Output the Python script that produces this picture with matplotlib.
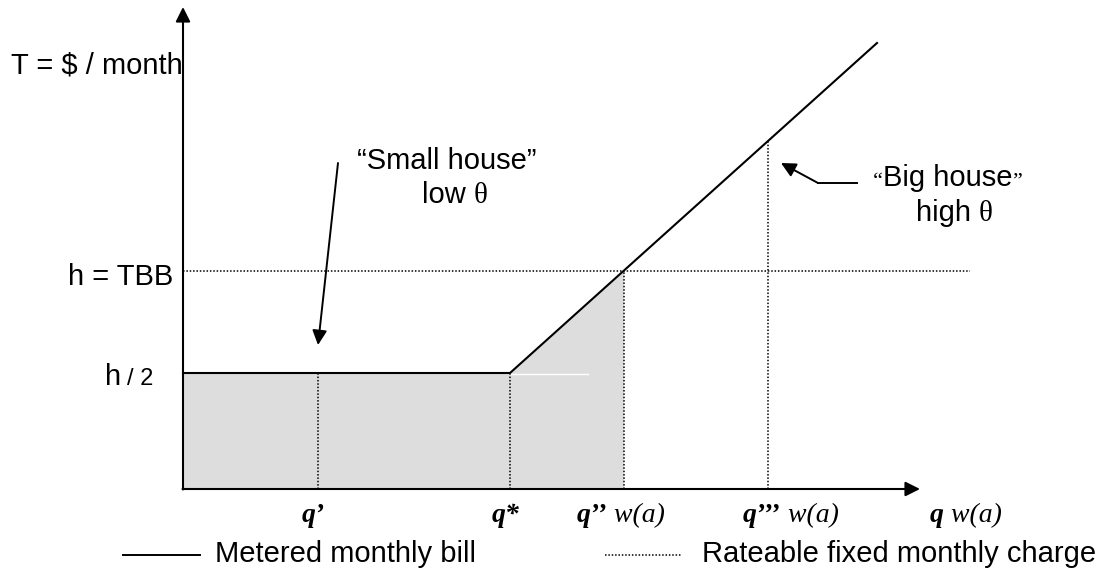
import matplotlib
matplotlib.use("Agg")
import matplotlib.pyplot as plt

# schematic values (x: quantity, y: $ / month)
h_half = 1.16
h = 2.18
q_prime = 1.35
q_star = 3.27
q_dd = 4.41
q_ddd = 5.85
q_end = 6.94
slope = (4.46 - h_half) / (q_end - q_star)

y_top = 4.82
x_tip = 7.37
h_line_end = 7.87

sans = "Liberation Sans"
serif = "Liberation Serif"

fig = plt.figure(figsize=(11.02, 5.69), dpi=100)
ax = fig.add_axes([0, 0, 1, 1])
ax.set_xlim(-1.83, 9.19)
ax.set_ylim(-0.80, 4.89)
ax.axis("off")

# shaded area under the bill up to q''
ax.fill([0, 0, q_star, q_dd, q_dd],
        [0, h_half, h_half, h_half + slope * (q_dd - q_star), 0],
        color="#dddddd", lw=0, zorder=1)
ax.plot([q_star, q_star + 0.78], [h_half - 0.01, h_half - 0.01], color="white", lw=1, zorder=2)

# metered monthly bill
ax.plot([0, q_star, q_end], [h_half, h_half, h_half + slope * (q_end - q_star)],
        color="black", lw=1.5, zorder=3)

# fixed charge line and verticals
ax.plot([0, h_line_end], [h, h], color="black", lw=1.1, ls=(0, (1, 1.2)), zorder=2)
for q in [q_prime, q_star, q_dd, q_ddd]:
    top = h_half if q <= q_star else h_half + slope * (q - q_star)
    ax.plot([q, q], [0, top], color="black", lw=1.1, ls=(0, (1, 1.2)), zorder=2)

# axes with arrows
arrow = dict(arrowstyle="-|>", lw=1.5, color="black", mutation_scale=22, shrinkA=0, shrinkB=0)
ax.annotate("", xy=(0, y_top), xytext=(0, -0.005), arrowprops=arrow, zorder=4)
ax.annotate("", xy=(x_tip, 0), xytext=(-0.005, 0), arrowprops=arrow, zorder=4)

# y labels
ax.text(0, 4.16, "T = $ / month", ha="right", va="baseline", fontsize=21, family=sans)
ax.text(-0.10, 2.04, "h = TBB", ha="right", va="baseline", fontsize=21, family=sans)
ax.text(-0.78, 1.04, "h", ha="left", va="baseline", fontsize=21, family=sans)
ax.text(-0.56, 1.04, "/ 2", ha="left", va="baseline", fontsize=17, family=sans)


def sans_theta(x, y, word):
    t = ax.text(x, y, word + " ", ha="left", va="baseline", fontsize=21, family=sans)
    ax.annotate("\u03b8", xy=(1, 0), xycoords=t, ha="left", va="bottom",
                fontsize=21, family=serif)


# annotations
ax.text(1.74, 3.20, "\u201cSmall house\u201d", ha="left", va="baseline", fontsize=21, family=sans)
sans_theta(2.39, 2.86, "low")
ax.annotate("", xy=(1.35, 1.44), xytext=(1.55, 3.26),
            arrowprops=dict(arrowstyle="-|>", lw=1.4, color="black", mutation_scale=22,
                            shrinkA=0, shrinkB=0))

tq = ax.text(6.90, 3.02, "\u201c", ha="left", va="baseline", fontsize=16, family=serif)
tb = ax.annotate("Big house", xy=(1, 0), xycoords=tq, ha="left", va="bottom",
                 fontsize=21, family=sans)
ax.annotate("\u201d", xy=(1, 0), xycoords=tb, ha="left", va="bottom", fontsize=16, family=serif)
sans_theta(7.33, 2.68, "high")
ax.plot([6.74, 6.35], [3.06, 3.06], color="black", lw=1.4)
ax.annotate("", xy=(5.98, 3.26), xytext=(6.35, 3.06),
            arrowprops=dict(arrowstyle="-|>", lw=1.4, color="black", mutation_scale=22,
                            shrinkA=0, shrinkB=0))


# x labels
def qlabel(x, marks, tail):
    t = ax.text(x, -0.33, "q" + marks, ha="left", va="baseline", fontsize=20,
                family=serif, weight="bold", style="italic")
    if tail:
        ax.annotate(tail, xy=(1, 0), xycoords=t, ha="left", va="bottom", fontsize=20,
                    family=serif, style="italic")


qlabel(1.19, "\u2019", "")
qlabel(3.09, "*", "")
qlabel(3.94, "\u2019\u2019", " w(a)")
qlabel(5.60, "\u2019\u2019\u2019", " w(a)")
qlabel(7.47, "", " w(a)")

# legend
ax.plot([-0.60, 0.17], [-0.66, -0.66], color="black", lw=1.4)
ax.text(0.32, -0.73, "Metered monthly bill", ha="left", va="baseline", fontsize=21, family=sans)
ax.plot([4.22, 4.99], [-0.66, -0.66], color="black", lw=1.1, ls=(0, (1, 1.2)))
ax.text(5.19, -0.73, "Rateable fixed monthly charge", ha="left", va="baseline", fontsize=21, family=sans)

fig.savefig("out.png", dpi=100)
